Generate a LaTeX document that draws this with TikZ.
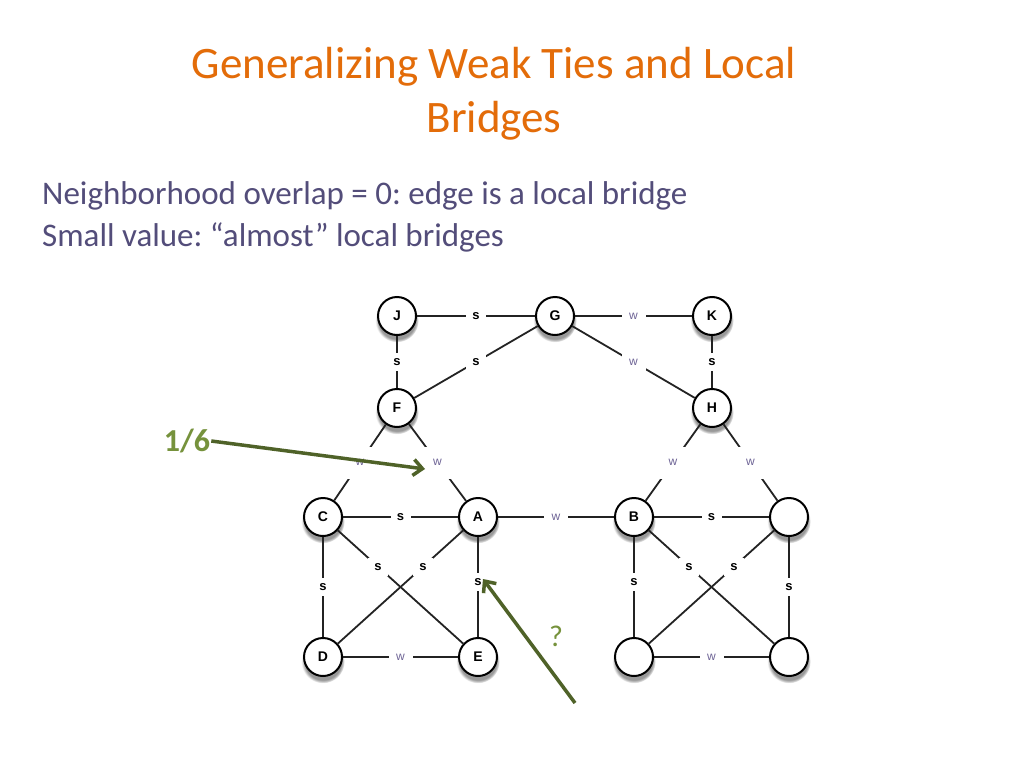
\documentclass[tikz,border=0pt]{standalone}
\usepackage{fontspec}
\setmainfont{Carlito}
\newfontfamily\nodefont{Liberation Sans}
\usetikzlibrary{shadows,arrows.meta}
\definecolor{titleorange}{RGB}{227,108,9}
\definecolor{bodytext}{RGB}{83,77,122}
\definecolor{arrowgreen}{RGB}{79,98,40}
\definecolor{labgreen}{RGB}{118,146,60}
\definecolor{edgegray}{RGB}{35,35,35}
\definecolor{wcol}{RGB}{110,100,150}
\frenchspacing
\begin{document}
\begin{tikzpicture}[x=1pt,y=-1pt,
  vtx/.style={circle,draw=black,line width=2pt,fill=white,minimum size=38pt,inner sep=0pt,
    font=\nodefont\bfseries\fontsize{14}{14}\selectfont,
    circular drop shadow={shadow xshift=0pt,shadow yshift=-4pt,shadow scale=1.14,opacity=0.8}},
  edge/.style={draw=edgegray,line width=1.8pt},
  slab/.style={fill=white,inner sep=0pt,minimum width=20pt,minimum height=18pt,
    font=\nodefont\bfseries\fontsize{13}{13}\selectfont,text=black},
  wlab/.style={fill=white,inner sep=0pt,minimum width=24pt,minimum height=18pt,
    font=\nodefont\fontsize{12}{12}\selectfont,text=wcol},
  bigw/.style={wlab,minimum width=30pt,minimum height=32pt},
  pointer/.style={draw=arrowgreen,line width=3.5pt,-{Straight Barb[length=9pt,width=16pt,line width=3.5pt]}}
]
\useasboundingbox (0,0) rectangle (1024,768);
\fill[white] (0,0) rectangle (1024,768);

\node[align=center,text=titleorange,font=\fontsize{45}{54}\selectfont] (title) at (494,94)
  {Generalizing Weak Ties and Local\\Bridges};
\node[anchor=base west,text=bodytext,font=\fontsize{33}{40}\selectfont,inner sep=0pt] (l1) at (42,204)
  {Neighborhood overlap = 0: edge is a local bridge};
\node[anchor=base west,text=bodytext,font=\fontsize{33}{40}\selectfont,inner sep=0pt] (l2) at (42,246)
  {Small value: “almost” local bridges};

% vertices
\node[vtx] (J) at (397,316) {J};
\node[vtx] (G) at (555,316) {G};
\node[vtx] (K) at (712,316) {K};
\node[vtx] (F) at (397,408) {F};
\node[vtx] (H) at (712,408) {H};
\node[vtx] (C) at (323,517) {C};
\node[vtx] (A) at (478,517) {A};
\node[vtx] (B) at (634,517) {B};
\node[vtx] (R) at (789,517) {};
\node[vtx] (D) at (323,657) {D};
\node[vtx] (E) at (478,657) {E};
\node[vtx] (X) at (634,657) {};
\node[vtx] (Y) at (789,657) {};

% edges
\draw[edge] (J) -- node[slab]{s} (G);
\draw[edge] (G) -- node[wlab]{w} (K);
\draw[edge] (J) -- node[slab]{s} (F);
\draw[edge] (K) -- node[slab]{s} (H);
\draw[edge] (G) -- node[slab]{s} (F);
\draw[edge] (G) -- node[wlab]{w} (H);
\draw[edge] (F) -- node[bigw]{w} (C);
\draw[edge] (F) -- node[bigw]{w} (A);
\draw[edge] (H) -- node[bigw]{w} (B);
\draw[edge] (H) -- node[bigw]{w} (R);
\draw[edge] (C) -- node[slab]{s} (A);
\draw[edge] (A) -- node[wlab]{w} (B);
\draw[edge] (B) -- node[slab]{s} (R);
\draw[edge] (C) -- node[slab]{s} (D);
\draw[edge] (A) -- node[slab,pos=0.45]{s} (E);
\draw[edge] (C) -- node[slab,pos=0.32]{s} (E);
\draw[edge] (A) -- node[slab,pos=0.32]{s} (D);
\draw[edge] (D) -- node[wlab]{w} (E);
\draw[edge] (B) -- node[slab,pos=0.32]{s} (Y);
\draw[edge] (R) -- node[slab,pos=0.32]{s} (X);
\draw[edge] (B) -- node[slab,pos=0.45]{s} (X);
\draw[edge] (R) -- node[slab,pos=0.5]{s} (Y);
\draw[edge] (X) -- node[wlab]{w} (Y);

% annotations
\node[text=labgreen,font=\bfseries\fontsize{32}{32}\selectfont,inner sep=1pt] (q16) at (187,441) {1/6};
\coordinate (t1) at (425,469);
\draw[pointer] (q16.east) -- (t1);
\node[text=labgreen,font=\fontsize{30}{30}\selectfont] (qm) at (556,636) {?};
\coordinate (s2) at (575,703);
\coordinate (t2) at (483,579);
\draw[pointer] (s2) -- (t2);
\end{tikzpicture}
\end{document}
